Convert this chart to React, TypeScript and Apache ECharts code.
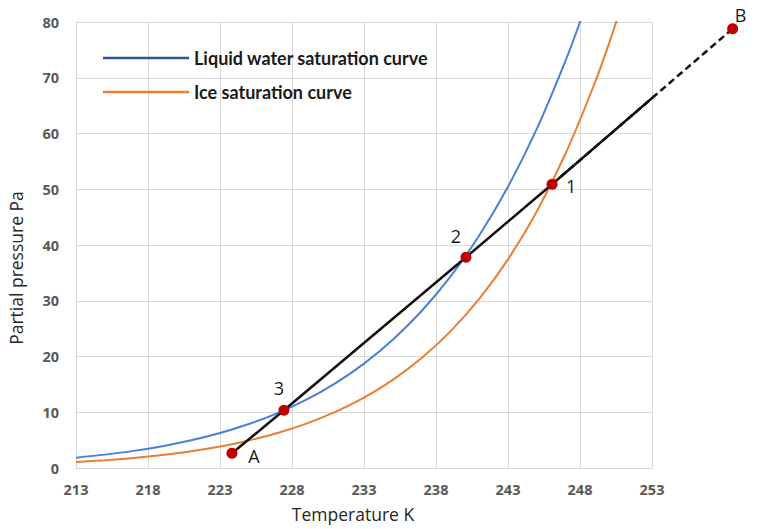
import React, { useEffect, useRef } from "react";
import * as echarts from "echarts";

// Saturation curves
const liquidTempK = [213, 215, 217, 219, 221, 223, 225, 227, 229, 231, 233, 235, 237, 239, 241, 243, 245, 247, 248, 249];
const liquidPa = [1.86, 2.4, 3.07, 3.92, 4.97, 6.27, 7.88, 9.85, 12.25, 15.18, 18.73, 23.01, 28.16, 34.33, 41.69, 50.45, 60.83, 73.09, 80.0, 87.5];
const iceTempK = [213, 215, 217, 219, 221, 223, 225, 227, 229, 231, 233, 235, 237, 239, 241, 243, 245, 247, 249, 250, 251];
const icePa = [1.06, 1.38, 1.8, 2.34, 3.01, 3.87, 4.94, 6.29, 7.97, 10.06, 12.64, 15.82, 19.73, 24.51, 30.34, 37.43, 46.02, 56.41, 68.88, 76.03, 83.85];

// Process path points
const pointNames = ["A", "3", "2", "1", "B"];
const pointTempK = [223.83, 227.44, 240.08, 246.06, 258.6];
const pointPa = [2.64, 10.36, 37.8, 50.9, 78.8];
const labelOffsets: [number, number][] = [[22, 3], [-5, -22], [-10, -21], [19, 2], [8, -14]];

const xTicks = { min: 213, max: 253, interval: 5 };
const yTicks = { min: 0, max: 80, interval: 10 };

const zip = (xs: number[], ys: number[]) => xs.map((x, i) => [x, ys[i]]);

export default function App() {
  const ref = useRef<HTMLDivElement>(null);
  useEffect(() => {
    if (!ref.current) return;
    const chart = echarts.init(ref.current, undefined, { renderer: "svg" });
    const gridColor = "#d9d9d9";
    const font = "'Open Sans', 'Liberation Sans', sans-serif";
    const pathPts = zip(pointTempK, pointPa);
    const last = pathPts.length - 1;
    chart.setOption({
      animation: false,
      backgroundColor: "#ffffff",
      grid: { left: 76, right: 124, top: 22, bottom: 61, containLabel: false },
      xAxis: {
        type: "value",
        min: xTicks.min,
        max: xTicks.max,
        interval: xTicks.interval,
        axisLine: { show: true, lineStyle: { color: gridColor, width: 1 } },
        axisTick: { show: false },
        splitLine: { show: true, lineStyle: { color: gridColor, width: 1 } },
        axisLabel: { color: "#595959", fontSize: 14.5, fontWeight: "bold", fontFamily: font, margin: 14 },
      },
      yAxis: {
        type: "value",
        min: yTicks.min,
        max: yTicks.max,
        interval: yTicks.interval,
        axisLine: { show: false },
        axisTick: { show: false },
        splitLine: { show: true, lineStyle: { color: gridColor, width: 1 } },
        axisLabel: { color: "#595959", fontSize: 14.5, fontWeight: "bold", fontFamily: font, margin: 17 },
      },
      legend: {
        orient: "vertical",
        left: 103,
        top: 47,
        padding: 0,
        icon: "rect",
        itemWidth: 86,
        itemHeight: 2.5,
        itemGap: 12,
        textStyle: { color: "#1a1a1a", fontSize: 18, fontWeight: "bold", fontFamily: "Lato, 'Open Sans', sans-serif", lineHeight: 22 },
        data: [
          { name: "Liquid water saturation curve", itemStyle: { color: "#2F5597" } },
          { name: "Ice saturation curve", itemStyle: { color: "#ED7D31" } },
        ],
      },
      graphic: [
        {
          type: "text",
          x: 353,
          y: 514,
          style: { text: "Temperature K", align: "center", verticalAlign: "middle", fontSize: 17.5, fontFamily: font, fill: "#262626" },
        },
        {
          type: "text",
          x: 16,
          y: 268,
          rotation: Math.PI / 2,
          style: { text: "Partial pressure Pa", align: "center", verticalAlign: "middle", fontSize: 17.5, fontFamily: font, fill: "#262626" },
        },
      ],
      series: [
        {
          name: "Liquid water saturation curve",
          type: "line",
          data: zip(liquidTempK, liquidPa),
          smooth: 0.3,
          showSymbol: false,
          lineStyle: { color: "#4A7FD6", width: 2 },
          itemStyle: { color: "#4A7FD6" },
          z: 2,
        },
        {
          name: "Ice saturation curve",
          type: "line",
          data: zip(iceTempK, icePa),
          smooth: 0.3,
          showSymbol: false,
          lineStyle: { color: "#ED7D31", width: 2 },
          itemStyle: { color: "#ED7D31" },
          z: 2,
        },
        {
          name: "path-dashed",
          type: "custom",
          clip: false,
          z: 3,
          data: [[pathPts[last - 1][0], pathPts[last - 1][1], pathPts[last][0], pathPts[last][1]]],
          renderItem: (params: any, api: any) => {
            const p1 = api.coord([api.value(0), api.value(1)]);
            const p2 = api.coord([api.value(2), api.value(3)]);
            return {
              type: "line",
              shape: { x1: p1[0], y1: p1[1], x2: p2[0], y2: p2[1] },
              style: { stroke: "#111111", lineWidth: 2.5, lineDash: [7, 4] },
            };
          },
        },
        {
          name: "path",
          type: "line",
          data: pathPts,
          clip: true,
          showSymbol: false,
          lineStyle: { color: "#111111", width: 2.5 },
          z: 4,
        },
        {
          name: "points",
          type: "scatter",
          clip: false,
          symbolSize: 11,
          itemStyle: { color: "#C00000", opacity: 1 },
          z: 5,
          data: pointNames.map((n, i) => ({
            name: n,
            value: [pointTempK[i], pointPa[i]],
            label: {
              show: true,
              formatter: n,
              position: "inside",
              offset: labelOffsets[i],
              color: "#1a1a1a",
              fontSize: 18,
              fontFamily: font,
            },
          })),
        },
      ],
    });
    return () => chart.dispose();
  }, []);
  return <div ref={ref} style={{ width: 776, height: 529, position: "absolute", left: 0, top: 0 }} />;
}
